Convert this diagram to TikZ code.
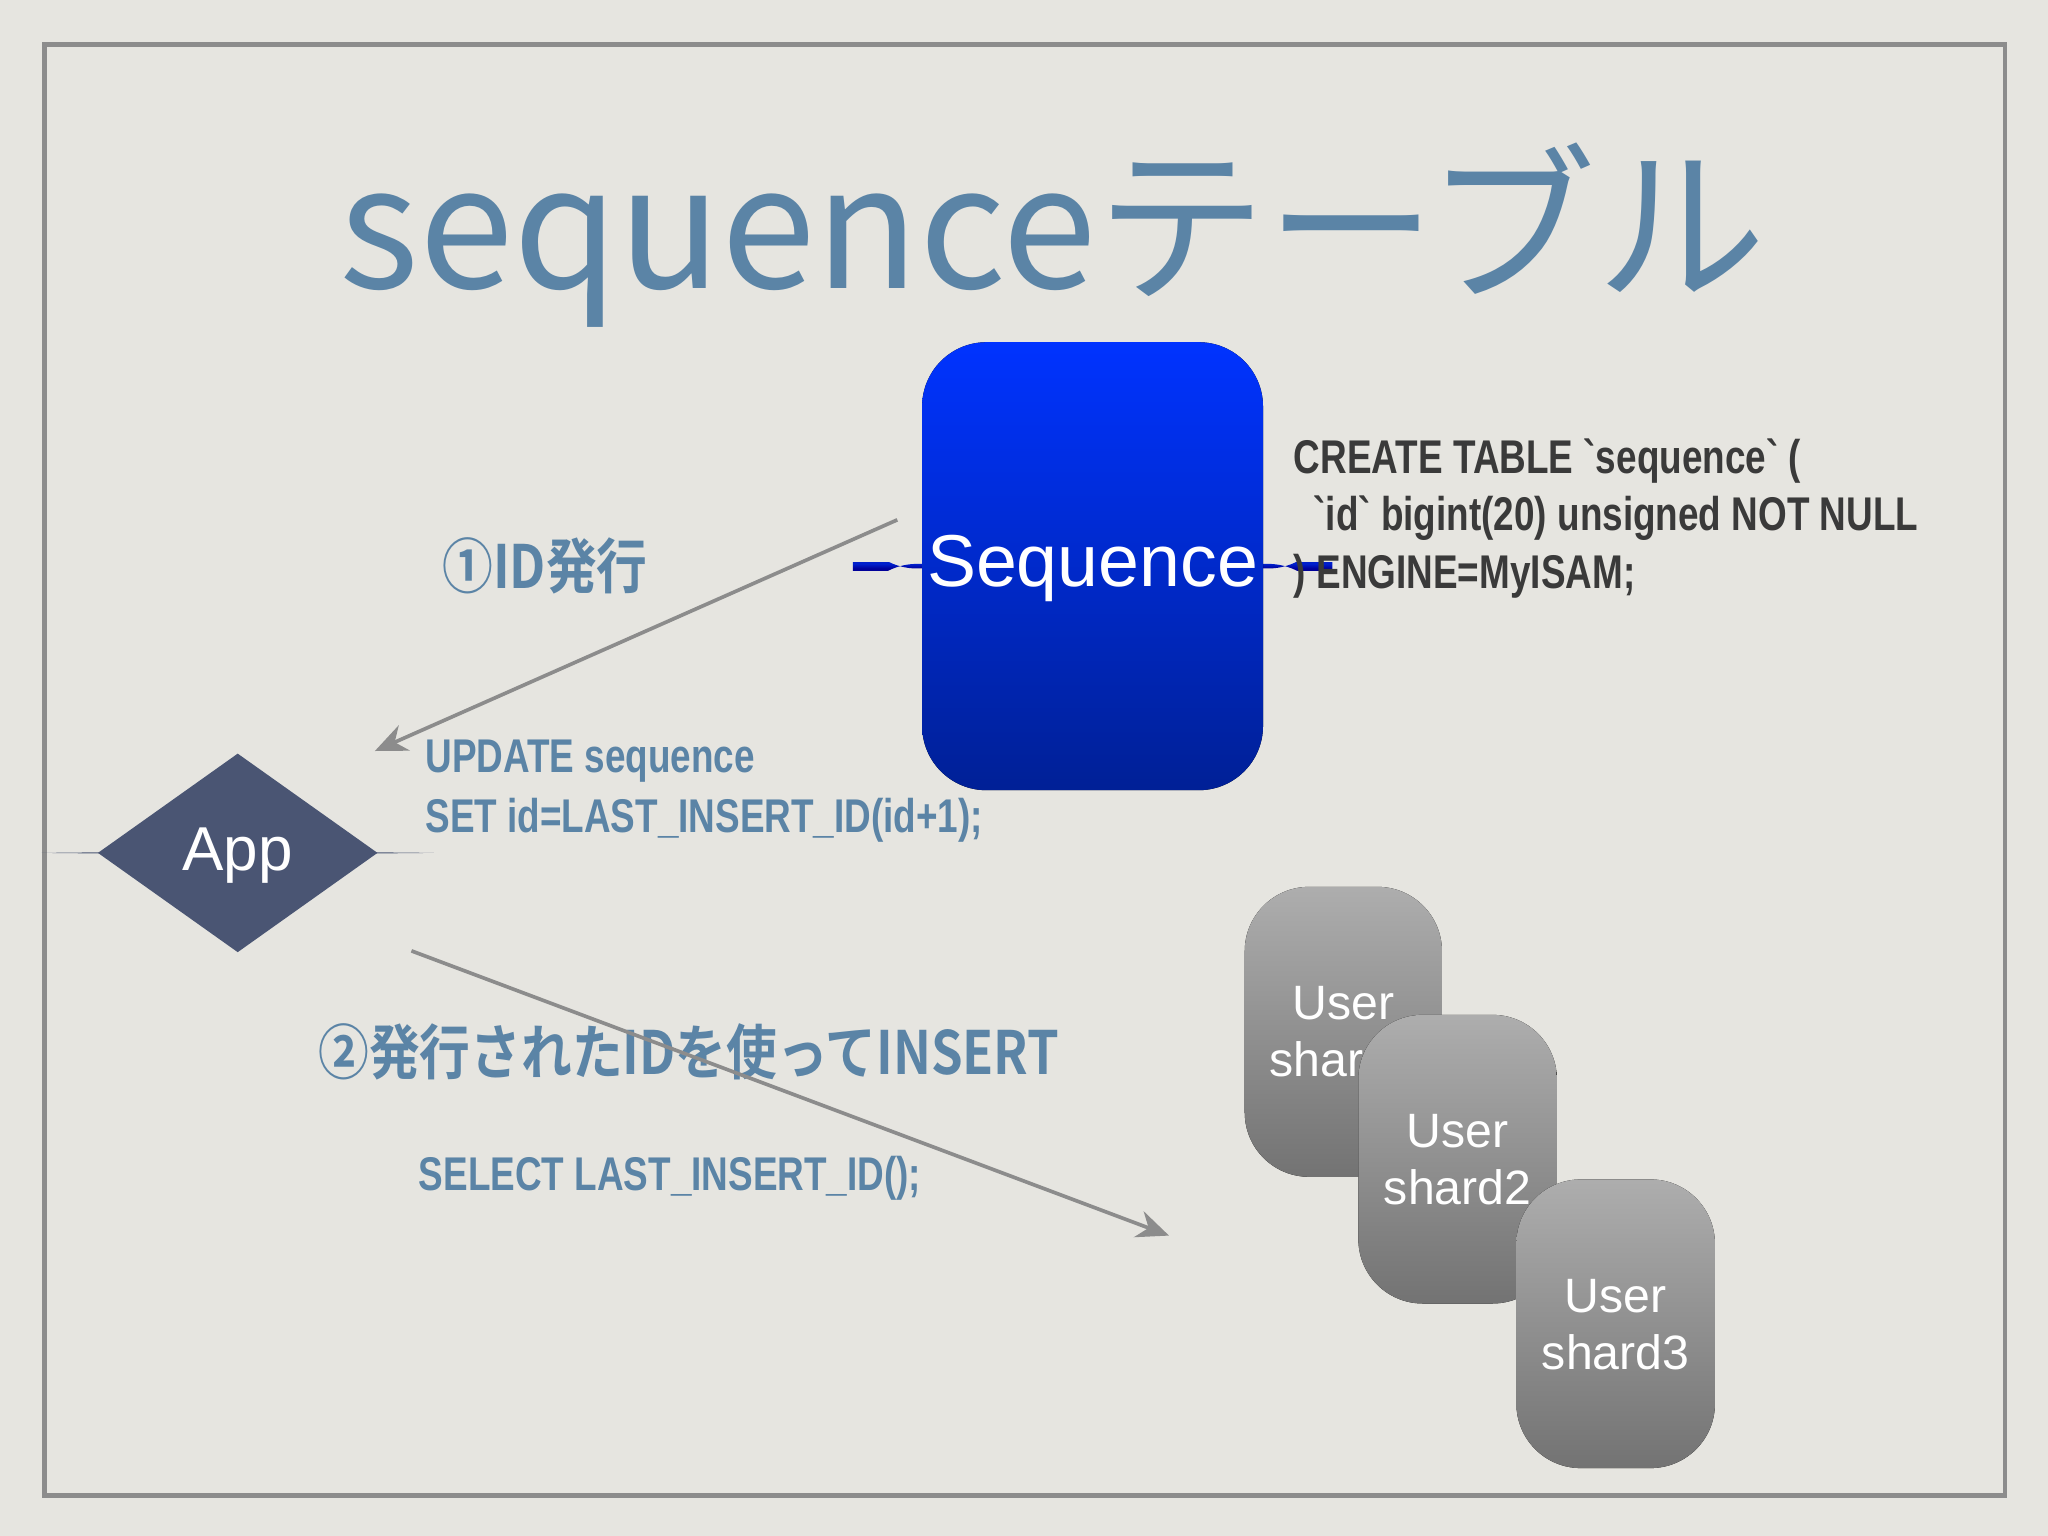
\documentclass[tikz,border=0pt]{standalone}
\usepackage{fontspec}
\setmainfont{Liberation Sans}
\newfontfamily\jp{Noto Sans CJK JP}
\newfontfamily\cond[FakeStretch=0.78]{Liberation Sans Bold}
\newfontfamily\jpb[FakeStretch=0.85]{Noto Sans CJK JP Bold}
\usetikzlibrary{arrows.meta,shapes.geometric}
\definecolor{bg}{HTML}{E6E5E0}
\definecolor{ttl}{HTML}{5B84A6}
\definecolor{dk}{HTML}{3A3A3A}
\definecolor{app}{HTML}{4A5573}
\tikzset{
 shard/.style={rounded corners=14pt,top color=black!32,bottom color=black!55,draw=none},
 shtxt/.style={text=white,font=\fontsize{10.5}{12.5}\selectfont,align=center},
 code/.style={anchor=west,inner sep=0,font=\cond\fontsize{10.3}{12}\selectfont},
 arr/.style={draw=black!45,line width=0.8pt,-{Stealth[length=7pt,width=6pt]}}
}
\begin{document}
\begin{tikzpicture}[x=0.01cm,y=-0.01cm]
\fill[bg] (0,0) rectangle (1568,1176);
\useasboundingbox (0,0) rectangle (1568,1176);
\draw[black!45,line width=1pt] (34,34) rectangle (1535,1145);
\node[text=ttl,font=\jp\fontsize{37}{40}\selectfont] (title) at (806,180) {sequenceテーブル};
\node[rounded corners=14pt,top color=blue!85!cyan!80!black,bottom color=blue!60!black,minimum width=261\pgflinewidth,inner sep=0] (seqbox) at (836.5,433.5) {};
\fill[rounded corners=14pt,top color={rgb,255:red,0;green,51;blue,255},bottom color={rgb,255:red,0;green,32;blue,150}] (706,262) rectangle (967,605);
\node[text=white,font=\fontsize{16}{18}\selectfont] (seq) at (836.5,435) {Sequence};
\node[code,text=dk] (c1) at (990,353) {CREATE TABLE `sequence` (};
\node[code,text=dk] (c2) at (1005,397) {`id` bigint(20) unsigned NOT NULL};
\node[code,text=dk] (c3) at (990,441) {) ENGINE=MyISAM;};
\node[text=ttl,anchor=west,inner sep=0,font=\jpb\fontsize{13}{15}\selectfont] (l1) at (338,433) {①ID発行};
\coordinate (a1s) at (687,398); \coordinate (a1e) at (287,575);
\draw[arr] (a1s) -- (a1e);
\node[code,text=ttl] (u1) at (325,583) {UPDATE sequence};
\node[code,text=ttl] (u2) at (325,628) {SET id=LAST\_INSERT\_ID(id+1);};
\node[diamond,fill=app,minimum width=214\pgflinewidth,inner sep=0] (appd) at (182,653) {};
\fill[app] (75,653) -- (182,577) -- (289,653) -- (182,729) -- cycle;
\node[text=white,font=\fontsize{13.5}{15}\selectfont] (app) at (182,655) {App};
\node[text=ttl,anchor=west,inner sep=0,font=\jpb\fontsize{13}{15}\selectfont] (l2) at (243,805) {②発行されたIDを使ってINSERT};
\node[code,text=ttl] (s1) at (320,902) {SELECT LAST\_INSERT\_ID();};
\coordinate (a2s) at (315,728); \coordinate (a2e) at (895,946);
\draw[arr] (a2s) -- (a2e);
\fill[shard] (953,679) rectangle (1104,901);
\node[shtxt] (sh1) at (1028.5,790) {User\\shard1};
\fill[shard] (1040,777) rectangle (1192,998);
\node[shtxt] (sh2) at (1116,888) {User\\shard2};
\fill[shard] (1161,903) rectangle (1313,1124);
\node[shtxt] (sh3) at (1237,1014) {User\\shard3};
\end{tikzpicture}
\end{document}
